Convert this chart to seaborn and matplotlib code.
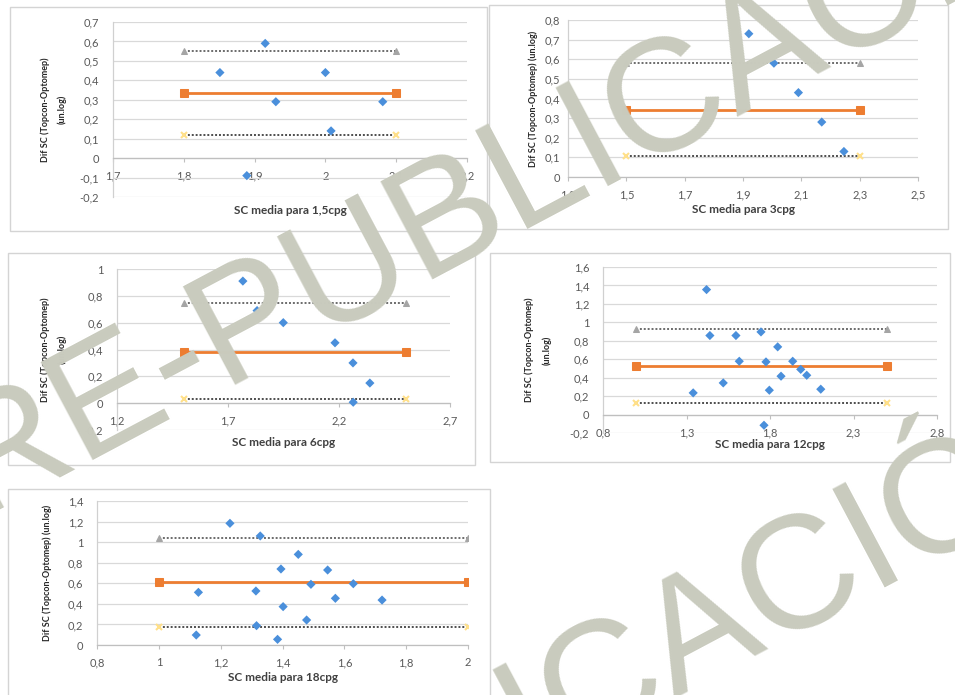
import matplotlib
matplotlib.use('Agg')
import matplotlib.pyplot as plt
import matplotlib.ticker as mticker
from matplotlib.patches import Rectangle
import seaborn as sns

# values: x = mean SC, y = difference
x_15 = [1.851, 1.915, 1.93, 2.0, 2.008, 2.081, 1.889]
y_15 = [0.44, 0.59, 0.29, 0.44, 0.14, 0.29, -0.09]
lim_15 = [0.335, 0.55, 0.12]          # mean, upper LoA, lower LoA
ends_15 = [1.8, 2.1]

x_3 = [1.92, 2.006, 2.09, 2.17, 2.246]
y_3 = [0.73, 0.58, 0.43, 0.28, 0.13]
lim_3 = [0.34, 0.58, 0.105]
ends_3 = [1.5, 2.3]

x_6 = [1.767, 1.831, 1.949, 2.182, 2.263, 2.339, 2.264]
y_6 = [0.91, 0.69, 0.60, 0.45, 0.30, 0.15, 0.007]
lim_6 = [0.385, 0.748, 0.03]
ends_6 = [1.5, 2.5]

x_12 = [1.42, 1.44, 1.34, 1.52, 1.596, 1.616, 1.746, 1.776, 1.764, 1.796,
        1.846, 1.866, 1.936, 1.984, 2.02, 2.104]
y_12 = [1.355, 0.857, 0.235, 0.343, 0.857, 0.578, 0.896, 0.571, -0.116, 0.264,
        0.734, 0.416, 0.578, 0.49, 0.426, 0.275]
lim_12 = [0.527, 0.925, 0.128]
ends_12 = [1.0, 2.5]

x_18 = [1.23, 1.328, 1.128, 1.121, 1.314, 1.316, 1.395, 1.402, 1.384, 1.451,
        1.478, 1.492, 1.546, 1.571, 1.629, 1.722]
y_18 = [1.183, 1.06, 0.512, 0.097, 0.525, 0.188, 0.739, 0.373, 0.055, 0.881,
        0.243, 0.59, 0.729, 0.454, 0.596, 0.437]
lim_18 = [0.609, 1.045, 0.177]
ends_18 = [1.0, 2.0]

xticks_15 = [1.7, 1.8, 1.9, 2.0, 2.1, 2.2]
yticks_15 = [-0.2, -0.1, 0, 0.1, 0.2, 0.3, 0.4, 0.5, 0.6, 0.7]
xticks_3 = [1.3, 1.5, 1.7, 1.9, 2.1, 2.3, 2.5]
yticks_3 = [0, 0.1, 0.2, 0.3, 0.4, 0.5, 0.6, 0.7, 0.8]
xticks_6 = [1.2, 1.7, 2.2, 2.7]
yticks_6 = [-0.2, 0, 0.2, 0.4, 0.6, 0.8, 1.0]
xticks_12 = [0.8, 1.3, 1.8, 2.3, 2.8]
yticks_12 = [-0.2, 0, 0.2, 0.4, 0.6, 0.8, 1.0, 1.2, 1.4, 1.6]
xticks_18 = [0.8, 1.0, 1.2, 1.4, 1.6, 1.8, 2.0]
yticks_18 = [0, 0.2, 0.4, 0.6, 0.8, 1.0, 1.2, 1.4]

titles = ["SC media para 1,5cpg", "SC media para 3cpg", "SC media para 6cpg",
          "SC media para 12cpg", "SC media para 18cpg"]
ylab_two = "Dif SC (Topcon-Optomep)\n(un.log)"
ylab_one = "Dif SC (Topcon-Optomep) (un.log)"
watermark = "RE-PUBLICACIÓN"

sns.set_theme(style='white')
plt.rcParams['font.family'] = ['Lato', 'DejaVu Sans']

W, H = 955, 695
fig = plt.figure(figsize=(W / 100, H / 100), dpi=100)
fig.patch.set_facecolor('white')


def px_rect(x0, y0, x1, y1):
    # pixel box (top-left origin) -> figure fraction rect
    return [x0 / W, 1 - y1 / H, (x1 - x0) / W, (y1 - y0) / H]


# panel layout: box, plot area, label spots
panels = [
    dict(x=x_15, y=y_15, lim=lim_15, ends=ends_15, title=titles[0], ylab=ylab_two,
         xt=xticks_15, yt=yticks_15,
         box=(10, 7, 487, 231), area=(113, 22, 467, 197),
         tpos=-0.045, ypos=-0.13, ypad=10),
    dict(x=x_3, y=y_3, lim=lim_3, ends=ends_3, title=titles[1], ylab=ylab_one,
         xt=xticks_3, yt=yticks_3,
         box=(489, 5, 948, 229), area=(568, 20, 918, 177),
         tpos=-0.17, ypos=-0.085, ypad=6),
    dict(x=x_6, y=y_6, lim=lim_6, ends=ends_6, title=titles[2], ylab=ylab_two,
         xt=xticks_6, yt=yticks_6,
         box=(8, 253, 475, 465), area=(117, 269, 450, 430),
         tpos=-0.045, ypos=-0.15, ypad=10),
    dict(x=x_12, y=y_12, lim=lim_12, ends=ends_12, title=titles[3], ylab=ylab_two,
         xt=xticks_12, yt=yticks_12,
         box=(490, 253, 950, 462), area=(603, 267, 937, 433),
         tpos=-0.035, ypos=-0.155, ypad=10),
    dict(x=x_18, y=y_18, lim=lim_18, ends=ends_18, title=titles[4], ylab=ylab_one,
         xt=xticks_18, yt=yticks_18,
         box=(8, 489, 490, 700), area=(97, 501, 468, 645),
         tpos=-0.185, ypos=-0.12, ypad=10),
]

comma = mticker.FuncFormatter(lambda v, p: f"{round(v, 2):g}".replace('.', ','))

for p in panels:
    fig.add_artist(Rectangle((p['box'][0] / W, 1 - p['box'][3] / H),
                             (p['box'][2] - p['box'][0]) / W,
                             (p['box'][3] - p['box'][1]) / H,
                             transform=fig.transFigure, fill=False,
                             edgecolor='#d4d4d4', lw=1, zorder=0))
    ax = fig.add_axes(px_rect(*p['area']))
    ax.set_facecolor('none')

    mean, up, lo = p['lim']
    sns.lineplot(x=p['ends'], y=[up, up], ax=ax, color='#6b6b6b', lw=1.4,
                 linestyle=(0, (1, 1)), marker='^', markersize=5,
                 markerfacecolor='#a5a5a5', markeredgecolor='#a5a5a5', zorder=2)
    sns.lineplot(x=p['ends'], y=[lo, lo], ax=ax, color='#4d4d4d', lw=1.4,
                 linestyle=(0, (1, 1)), marker='x', markersize=5,
                 markeredgecolor='#ffe08a', markeredgewidth=1.5, zorder=2)
    sns.lineplot(x=p['ends'], y=[mean, mean], ax=ax, color='#ed7d31', lw=2,
                 marker='s', markersize=6, markeredgecolor='#ed7d31', zorder=3)
    sns.scatterplot(x=p['x'], y=p['y'], ax=ax, marker='D', s=22,
                    color='#4a8fdb', edgecolor='none', zorder=4)

    ax.set_xticks(p['xt'])
    ax.set_yticks(p['yt'])
    ax.set_xlim(p['xt'][0], p['xt'][-1])
    ax.set_ylim(p['yt'][0], p['yt'][-1])
    ax.xaxis.set_major_formatter(comma)
    ax.yaxis.set_major_formatter(comma)
    ax.grid(axis='y', color='#d9d9d9', lw=0.9)
    ax.grid(axis='x', visible=False)
    ax.set_axisbelow(True)

    for s in ['top', 'right']:
        ax.spines[s].set_visible(False)
    ax.spines['bottom'].set_position(('data', 0))
    ax.spines['bottom'].set_color('#bfbfbf')
    ax.spines['left'].set_color('#d0d0d0')
    ax.spines['bottom'].set_linewidth(0.9)
    ax.spines['left'].set_linewidth(0.9)

    ax.tick_params(axis='x', direction='out', length=3, width=0.8, color='#bfbfbf',
                   labelsize=8, labelcolor='#595959', pad=6, bottom=True)
    ax.tick_params(axis='y', length=0, labelsize=8, labelcolor='#595959', pad=p['ypad'])

    ax.set_xlabel(p['title'], fontsize=8.5, fontweight='bold', color='#404040')
    ax.xaxis.set_label_coords(0.5, p['tpos'])
    ax.set_ylabel(p['ylab'], fontsize=6.5, fontweight='bold', color='#262626',
                  linespacing=2.0)
    ax.yaxis.set_label_coords(p['ypos'], 0.5)

# diagonal watermark stamped twice
for sx, sy in [(-22, 514), (-85, 1096)]:
    fig.text(sx / W, 1 - sy / H, watermark, fontsize=116, color='#c9cbbe',
             family=['Liberation Sans', 'DejaVu Sans'], rotation=28,
             rotation_mode='anchor', ha='left', va='baseline', zorder=10)

plt.savefig('out.png', dpi=100)
